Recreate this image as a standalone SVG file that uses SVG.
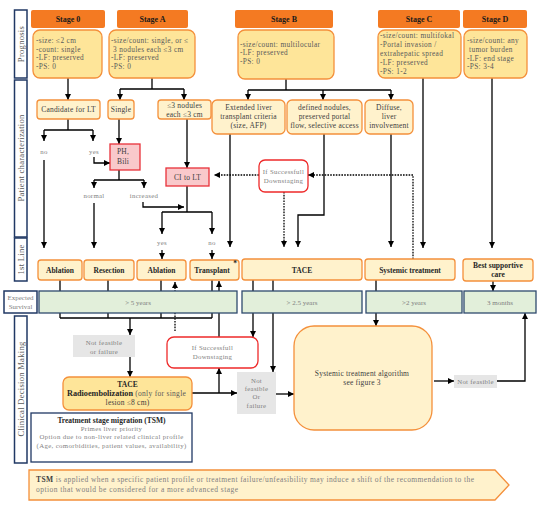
<svg xmlns="http://www.w3.org/2000/svg" width="550" height="505" viewBox="0 0 550 505">
<style>
text{font-family:"Liberation Serif","DejaVu Serif",serif;}
.lab{fill:#fff;stroke:#203864;stroke-width:1.5;}
.labt{font-size:8.5px;fill:#595959;text-anchor:middle;letter-spacing:0.3px;}
.hdr{fill:#f47a22;}
.hdrt{font-size:8px;font-weight:bold;fill:#1a1a1a;text-anchor:middle;}
.prog{fill:#fee599;stroke:#f4903b;stroke-width:1.3;}
.pt{font-size:7.3px;fill:#595959;letter-spacing:0.35px;}
.pc{fill:#fff2cc;stroke:#f4903b;stroke-width:1.3;}
.pct{font-size:7.5px;fill:#404040;text-anchor:middle;letter-spacing:0.2px;}
.pink{fill:#f9c9cb;stroke:#e8323a;stroke-width:1.3;}
.redw{fill:#fff;stroke:#ee2a2a;stroke-width:1.3;}
.gt{font-size:6.8px;fill:#7f7f7f;text-anchor:middle;letter-spacing:0.3px;}
.gray{fill:#e6e6e6;}
.grn{fill:#e2efda;stroke:#2f4a6e;stroke-width:1.3;}
.st{font-size:7px;fill:#7f7f7f;text-anchor:middle;}
.ft{font-size:7.5px;font-weight:bold;fill:#262626;text-anchor:middle;}
.c{fill:none;stroke:#000;stroke-width:1.3;}
.a{marker-end:url(#ah);}
.d{stroke-dasharray:1.6 1.2;}
</style>
<defs>
<marker id="ah" viewBox="0 0 10 10" refX="10" refY="5" markerWidth="6" markerHeight="6" markerUnits="userSpaceOnUse" orient="auto"><path d="M0,0 L10,5 L0,10 z" fill="#000"/></marker>
</defs>

<g id="connectors">
<path class="c a" d="M68,78 V100"/>
<path class="c" d="M152,78 V89 M120,89 H184"/>
<path class="c a" d="M120,89 V100"/>
<path class="c a" d="M184,89 V100"/>
<path class="c" d="M286,79 V90 M248,90 H391"/>
<path class="c a" d="M248,90 V100"/>
<path class="c a" d="M323,90 V100"/>
<path class="c a" d="M391,90 V100"/>
<path class="c a" d="M423,78 V248"/>
<path class="c a" d="M492,78 V248"/>
<path class="c" d="M68,119 V130 M44,130 H93"/>
<path class="c a" d="M44,130 V141"/>
<path class="c a" d="M93,130 V141"/>
<path class="c a" d="M44,160 V248"/>
<path class="c a" d="M94,157 V163 H110"/>
<path class="c a" d="M119,119 V144"/>
<path class="c" d="M119,170 V180 M94,180 H144"/>
<path class="c a" d="M94,180 V188"/>
<path class="c a" d="M144,180 V188"/>
<path class="c a" d="M94,203 V248"/>
<path class="c a" d="M143,202 V207 H184"/>
<path class="c a" d="M187,119 V168"/>
<path class="c" d="M187,186 V212 M162,212 H212"/>
<path class="c a" d="M162,212 V234"/>
<path class="c a" d="M212,212 V234"/>
<path class="c a" d="M162,250 V259"/>
<path class="c a" d="M212,250 V259"/>
<path class="c a" d="M230,134 V247"/>
<path class="c a d" d="M284,192 V247"/>
<path class="c a" d="M324,134 V215 H298 V247"/>
<path class="c a" d="M391,134 V247"/>
<path class="c a d" d="M413,259 V175 H308"/>
<path class="c a d" d="M259,175 H214"/>
<path class="c" d="M60,280 V318 M108,280 V318 M161,280 V318 M212,280 V318 M60,318 H212"/>
<path class="c a" d="M130,318 V335"/>
<path class="c a d" d="M175,331 V282"/>
<path class="c a" d="M219,337 V281"/>
<path class="c a" d="M253,280 V337"/>
<path class="c a" d="M273,280 V372"/>
<path class="c a" d="M376,280 V326"/>
<path class="c a" d="M493,281 V291"/>
<path class="c a" d="M130,357 V377"/>
<path class="c a" d="M192,393 H237"/>
<path class="c a" d="M219,393 V368"/>
<path class="c a" d="M276,394 H294"/>
<path class="c a" d="M434,381 H454"/>
<path class="c a" d="M497,381 H525 V313"/>
</g>

<g id="label-prognosis"><rect class="lab" x="14.5" y="10" width="12.5" height="68"/><text class="labt" transform="translate(23.5,44) rotate(-90)">Prognosis</text></g>
<g id="label-patient"><rect class="lab" x="14.5" y="80" width="12.5" height="157"/><text class="labt" transform="translate(23.5,158) rotate(-90)">Patient characterization</text></g>
<g id="label-firstline"><rect class="lab" x="14.5" y="238" width="12.5" height="43"/><text class="labt" transform="translate(23.5,259.5) rotate(-90)">1st Line</text></g>
<g id="label-survival"><rect class="lab" x="4" y="291" width="33" height="22"/><text class="st" x="20.5" y="300">Expected</text><text class="st" x="20.5" y="309">Survival</text></g>
<g id="label-clinical"><rect class="lab" x="14.5" y="316" width="12.5" height="147"/><text class="labt" transform="translate(23.5,389) rotate(-90)">Clinical Decision Making</text></g>

<g id="stage0-hdr"><rect class="hdr" x="31" y="10" width="74" height="18" rx="2"/><text class="hdrt" x="68" y="22">Stage 0</text></g>
<g id="stageA-hdr"><rect class="hdr" x="117" y="10" width="71" height="18" rx="2"/><text class="hdrt" x="152.5" y="22">Stage A</text></g>
<g id="stageB-hdr"><rect class="hdr" x="235" y="10" width="98" height="18" rx="2"/><text class="hdrt" x="284" y="22">Stage B</text></g>
<g id="stageC-hdr"><rect class="hdr" x="378" y="10" width="82" height="18" rx="2"/><text class="hdrt" x="419" y="22">Stage C</text></g>
<g id="stageD-hdr"><rect class="hdr" x="463" y="10" width="64" height="18" rx="2"/><text class="hdrt" x="495" y="22">Stage D</text></g>

<g id="stage0-prog"><rect class="prog" x="33" y="30" width="69" height="48" rx="7"/>
<text class="pt" x="36" y="43">-size: ≤2 cm</text><text class="pt" x="36" y="51.5">-count: single</text><text class="pt" x="36" y="60">-LF: preserved</text><text class="pt" x="36" y="68.5">-PS: 0</text></g>
<g id="stageA-prog"><rect class="prog" x="109" y="30" width="86" height="48" rx="7"/>
<text class="pt" x="111" y="43">-size/count: single, or ≤</text><text class="pt" x="113" y="51.5">3 nodules each ≤3 cm</text><text class="pt" x="111" y="60">-LF: preserved</text><text class="pt" x="111" y="68.5">-PS: 0</text></g>
<g id="stageB-prog"><rect class="prog" x="238" y="30" width="96" height="49" rx="7"/>
<text class="pt" x="240" y="46.5">-size/count: multilocular</text><text class="pt" x="240" y="55">-LF: preserved</text><text class="pt" x="240" y="63.5">-PS: 0</text></g>
<g id="stageC-prog"><rect class="prog" x="378" y="30" width="83" height="48" rx="7"/>
<text class="pt" x="380" y="37.5">-size/count: multifokal</text><text class="pt" x="380" y="46.5">-Portal invasion /</text><text class="pt" x="380" y="55.5">extrahepatic spread</text><text class="pt" x="380" y="64.5">-LF: preserved</text><text class="pt" x="380" y="73.5">-PS: 1-2</text></g>
<g id="stageD-prog"><rect class="prog" x="464" y="30" width="63" height="48" rx="7"/>
<text class="pt" x="467" y="43">-size/count: any</text><text class="pt" x="469" y="51.5">tumor burden</text><text class="pt" x="467" y="60.5">-LF: end stage</text><text class="pt" x="467" y="69">-PS: 3-4</text></g>

<g id="candidate"><rect class="pc" x="37" y="100" width="63" height="19" rx="3"/><text class="pct" x="68.5" y="112">Candidate for LT</text></g>
<g id="single"><rect class="pc" x="108" y="100" width="26" height="19" rx="3"/><text class="pct" x="121" y="112">Single</text></g>
<g id="three-nodules"><rect class="pc" x="158" y="100" width="53" height="19" rx="3"/><text class="pct" x="184.5" y="108">≤3 nodules</text><text class="pct" x="184.5" y="116.5">each ≤3 cm</text></g>
<g id="extended"><rect class="pc" x="212" y="100" width="73" height="34" rx="5"/><text class="pct" x="248.5" y="110">Extended liver</text><text class="pct" x="248.5" y="119">transplant criteria</text><text class="pct" x="248.5" y="128">(size, AFP)</text></g>
<g id="defined"><rect class="pc" x="287" y="100" width="75" height="34" rx="5"/><text class="pct" x="324.5" y="110">defined nodules,</text><text class="pct" x="324.5" y="119">preserved portal</text><text class="pct" x="324.5" y="128">flow, selective access</text></g>
<g id="diffuse"><rect class="pc" x="365" y="100" width="48" height="34" rx="5"/><text class="pct" x="389" y="110">Diffuse,</text><text class="pct" x="389" y="119">liver</text><text class="pct" x="389" y="128">involvement</text></g>

<g id="lbl-no1"><text class="gt" x="44" y="154">no</text></g>
<g id="lbl-yes1"><text class="gt" x="94" y="154">yes</text></g>
<g id="ph-bili"><rect class="pink" x="110" y="144" width="30" height="26"/><text class="pct" x="123" y="154">PH,</text><text class="pct" x="123" y="164">Bili</text></g>
<g id="lbl-normal"><text class="gt" x="94" y="198">normal</text></g>
<g id="lbl-increased"><text class="gt" x="144" y="198">increased</text></g>
<g id="ci-lt"><rect class="pink" x="166" y="168" width="43" height="18"/><text class="pct" x="187.5" y="180">CI to LT</text></g>
<g id="lbl-yes2"><text class="gt" x="162" y="245">yes</text></g>
<g id="lbl-no2"><text class="gt" x="212" y="245">no</text></g>
<g id="downstage-top"><rect class="redw" x="259" y="160" width="49" height="32" rx="6"/><text class="gt" x="283.5" y="174">If Successfull</text><text class="gt" x="283.5" y="183">Downstaging</text></g>

<g id="ablation1"><rect class="pc" x="38" y="260" width="44" height="20" rx="3"/><text class="ft" x="60" y="272.5">Ablation</text></g>
<g id="resection"><rect class="pc" x="84" y="260" width="50" height="20" rx="3"/><text class="ft" x="109" y="272.5">Resection</text></g>
<g id="ablation2"><rect class="pc" x="137" y="260" width="49" height="20" rx="3"/><text class="ft" x="161.5" y="272.5">Ablation</text></g>
<g id="transplant"><rect class="pc" x="190" y="260" width="49" height="20" rx="3"/><text class="ft" x="212" y="272.5">Transplant</text><text class="ft" x="235" y="266" font-size="6">*</text></g>
<g id="tace"><rect class="pc" x="242" y="259" width="120" height="21" rx="3"/><text class="ft" x="302" y="272.5">TACE</text></g>
<g id="systemic"><rect class="pc" x="365" y="259" width="90" height="21" rx="3"/><text class="ft" x="410" y="272.5">Systemic treatment</text></g>
<g id="bsc"><rect class="pc" x="463" y="259" width="70" height="22" rx="3"/><text class="ft" x="498" y="268">Best supportive</text><text class="ft" x="498" y="277">care</text></g>

<g id="surv-5"><rect class="grn" x="39" y="291" width="198" height="22"/><text class="st" x="138" y="304.5">&gt; 5 years</text></g>
<g id="surv-25"><rect class="grn" x="242" y="291" width="120" height="22"/><text class="st" x="302" y="304.5">&gt; 2.5 years</text></g>
<g id="surv-2"><rect class="grn" x="366" y="291" width="96" height="22"/><text class="st" x="414" y="304.5">&gt;2 years</text></g>
<g id="surv-3m"><rect class="grn" x="464" y="291" width="72" height="22"/><text class="st" x="500" y="304.5">3 months</text></g>

<g id="nf1"><rect class="gray" x="73" y="335" width="62" height="22"/><text class="gt" x="104" y="345">Not feasible</text><text class="gt" x="104" y="353.5">or failure</text></g>
<g id="downstage-bottom"><rect class="redw" x="167" y="337" width="91" height="31" rx="7"/><text class="gt" x="212.5" y="349.5">If Successfull</text><text class="gt" x="212.5" y="359">Downstaging</text></g>
<g id="tace-radio"><rect class="prog" x="63" y="377" width="129" height="33" rx="6"/>
<text class="ft" x="127.5" y="387" font-size="8.2">TACE</text>
<text x="67" y="396" font-size="8.2" fill="#262626"><tspan font-weight="bold">Radioembolization</tspan><tspan fill="#595959" font-size="7.5" letter-spacing="0.3"> (only for single</tspan></text>
<text class="pct" x="127.5" y="405" fill="#595959" letter-spacing="0.6">lesion ≤8 cm)</text></g>
<g id="nf2"><rect class="gray" x="237" y="372" width="39" height="42"/><text class="gt" x="256.5" y="383">Not</text><text class="gt" x="256.5" y="391">feasible</text><text class="gt" x="256.5" y="399">Or</text><text class="gt" x="256.5" y="408">failure</text></g>
<g id="systemic-algo"><rect class="pc" x="294" y="326" width="138" height="104" rx="20"/><text class="pct" x="362" y="376" fill="#595959">Systemic treatment algorithm</text><text class="pct" x="362" y="385" fill="#595959">see figure 3</text></g>
<g id="nf3"><rect class="gray" x="454" y="375" width="43" height="13"/><text class="gt" x="475.5" y="383.5">Not feasible</text></g>

<g id="tsm-box"><rect x="31" y="413" width="161" height="49" fill="#fff" stroke="#203864" stroke-width="1.3"/>
<text class="ft" x="111.5" y="422.5" font-size="7.2">Treatment stage migration (TSM)</text>
<text class="gt" x="111.5" y="430.5" font-size="7">Primes liver priority</text>
<text class="gt" x="111.5" y="439" font-size="7" textLength="144" lengthAdjust="spacing">Option due to non-liver related clinical profile</text>
<text class="gt" x="111.5" y="448" font-size="7" textLength="150" lengthAdjust="spacing">(Age, comorbidities, patient values, availability)</text></g>

<g id="tsm-banner"><path d="M29,470 H495 L509,485 L495,500 H29 Z" fill="#fff2cc" stroke="#f4903b" stroke-width="1.3"/>
<text x="36" y="482" font-size="7.5" fill="#7f7f7f" textLength="438" lengthAdjust="spacing"><tspan font-weight="bold" fill="#404040">TSM</tspan> is applied when a specific patient profile or treatment failure/unfeasibility may induce a shift of the recommendation to the</text>
<text x="36" y="492" font-size="7.5" fill="#7f7f7f" textLength="202" lengthAdjust="spacing">option that would be considered for a more advanced stage</text></g>
</svg>
